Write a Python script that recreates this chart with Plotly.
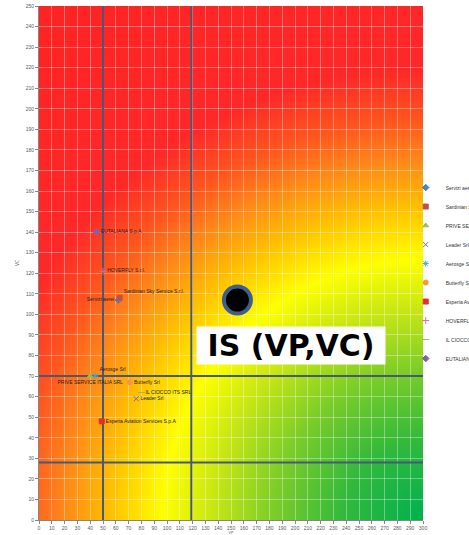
import base64
import plotly.graph_objects as go

# ---- data ----
companies = ["Servizi aerei", "Sardinian Sky Service S.r.l.", "PRIVE SERVICE ITALIA SRL",
             "Leader Srl", "Aerosge Srl", "Butterfly Srl",
             "Esperia Aviation Services S.p.A", "HOVERFLY S.r.l.", "IL CIOCCO ITS SRL",
             "EUTALIANA S.p.A."]
vp = [62, 63, 40, 76, 44, 71, 49, 50, 80, 45]
vc = [107, 108, 70, 59, 70, 67, 48, 121, 62, 140]

is_vp = [155]
is_vc = [107]
is_label = "IS (VP,VC)"

threshold_vp = [50, 119]
threshold_vc = [70, 28]

x_ticks = list(range(0, 301, 10))
y_ticks = list(range(0, 251, 10))

# ---- styles ----
symbols = ["diamond", "square", "triangle-up", "x-thin", "asterisk", "circle",
           "square", "cross-thin", "line-ew", "diamond"]
colors = ["#4F81BD", "#C0504D", "#9BBB59", "#8064A2", "#4BACC6", "#F79646",
          "#E02F2F", "#D46FA6", "#9BBB59", "#8064A2"]
text_pos = ["middle left", "top right", "bottom center", "middle right", "top right",
            "middle right", "middle right", "middle right", "middle right", "middle right"]

# background gradient (style only)
W, H = 384, 514
stops = [(0.0, "rgb(0,176,80)"), (0.124, "rgb(50,185,60)"), (0.233, "rgb(125,205,40)"),
         (0.326, "rgb(200,230,20)"), (0.403, "rgb(255,255,0)"), (0.481, "rgb(255,195,0)"),
         (0.558, "rgb(255,135,25)"), (0.620, "rgb(255,85,30)"), (0.698, "rgb(255,40,40)"),
         (1.0, "rgb(255,35,35)")]
stop_xml = "".join(f'<stop offset="{o}" stop-color="{c}"/>' for o, c in stops)
svg = (f'<svg xmlns="http://www.w3.org/2000/svg" width="{W}" height="{H}" viewBox="0 0 {W} {H}">'
       f'<defs><radialGradient id="g" gradientUnits="userSpaceOnUse" cx="{W}" cy="{H}" r="645">'
       f'{stop_xml}</radialGradient></defs>'
       f'<rect x="0" y="0" width="{W}" height="{H}" fill="url(#g)"/></svg>')
svg_uri = "data:image/svg+xml;base64," + base64.b64encode(svg.encode()).decode()

fig = go.Figure()

line_col = "#465A78"
for t in threshold_vp:
    fig.add_trace(go.Scatter(x=[t, t], y=[0, 250], mode="lines",
                             line=dict(color=line_col, width=2),
                             showlegend=False, hoverinfo="skip"))
for t in threshold_vc:
    fig.add_trace(go.Scatter(x=[0, 300], y=[t, t], mode="lines",
                             line=dict(color=line_col, width=2),
                             showlegend=False, hoverinfo="skip"))

for i, name in enumerate(companies):
    fig.add_trace(go.Scatter(
        x=[vp[i]], y=[vc[i]], mode="markers+text", name=name,
        text=[name], textposition=text_pos[i],
        textfont=dict(size=5, color="#222222", family="Liberation Sans"),
        marker=dict(symbol=symbols[i], size=5, color=colors[i],
                    line=dict(color=colors[i], width=1)),
        legendgroup=name, cliponaxis=False))

fig.add_trace(go.Scatter(
    x=is_vp, y=is_vc, mode="markers", showlegend=False, name=is_label,
    marker=dict(size=27, color="black", line=dict(color="#3E5F8C", width=4))))

fig.add_annotation(x=197, y=85, xref="x", yref="y",
                   text="&nbsp;<b>" + is_label + "</b>&nbsp;",
                   showarrow=False, bgcolor="white", borderpad=1,
                   font=dict(family="DejaVu Sans", size=30, color="black"))

fig.add_layout_image(source=svg_uri, xref="x", yref="y", x=0, y=250,
                     sizex=300, sizey=250, sizing="stretch", layer="below",
                     xanchor="left", yanchor="top")

axis_common = dict(showline=True, linecolor="#868686", linewidth=1,
                   ticks="outside", ticklen=3, tickcolor="#868686",
                   tickfont=dict(size=5, color="#595959", family="Liberation Sans"),
                   showgrid=True, gridcolor="rgba(255,255,255,0.35)", gridwidth=1,
                   zeroline=False)

fig.update_xaxes(range=[0, 300], tickvals=x_ticks, ticktext=[str(v) for v in x_ticks],
                 title=dict(text="VP", font=dict(size=4, color="#595959"), standoff=4),
                 **axis_common)
fig.update_yaxes(range=[0, 250], tickvals=y_ticks, ticktext=[str(v) for v in y_ticks],
                 title=dict(text="VC", font=dict(size=5, color="#595959"), standoff=5),
                 **axis_common)

fig.update_layout(
    width=469, height=535,
    margin=dict(l=39, r=46, t=6, b=15, autoexpand=False),
    paper_bgcolor="white", plot_bgcolor="rgba(0,0,0,0)",
    legend=dict(x=0.955, y=0.675, xanchor="left", yanchor="top",
                bgcolor="rgba(0,0,0,0)", tracegroupgap=0,
                font=dict(size=5, color="#333333", family="Liberation Sans")),
    showlegend=True,
)

fig.write_html("out.html", config={"displayModeBar": False},
               post_script="document.body.style.margin='0';")
